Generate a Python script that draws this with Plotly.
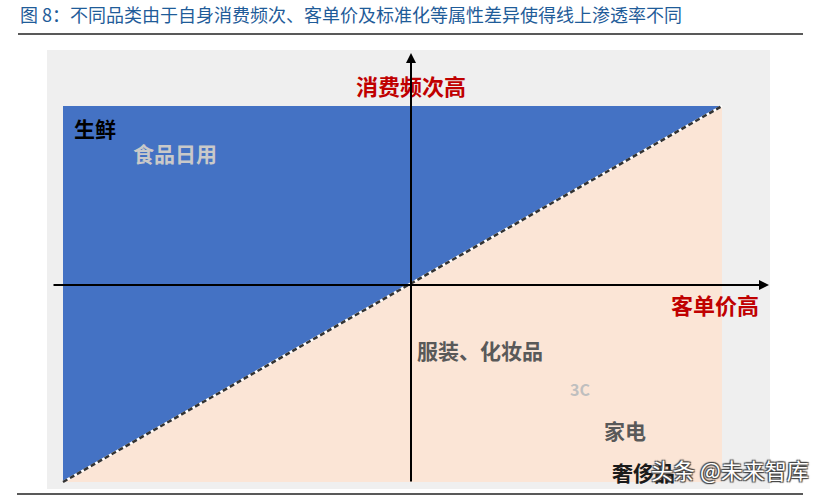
import plotly.graph_objects as go

# conceptual quadrant: x = 客单价, y = 消费频次 (origin where the axes cross)
categories = ['生鲜', '食品日用', '服装、化妆品', '3C', '家电', '奢侈品']
price_pos = [-3.16, -2.36, 0.69, 1.69, 2.14, 2.32]
freq_pos = [1.57, 1.32, -0.65, -1.04, -1.45, -1.87]
label_colors = ['#000000', '#C9C9C9', '#595959', '#BFBFBF', '#595959', '#1a1a1a']
label_sizes = [21, 21, 21, 16, 21, 21]

# region bounds of the online / offline split
region_x = [-3.48, 3.11]
region_y = [-1.97, 1.79]

axis_titles = ['客单价高', '消费频次高']
title_text = '图 8：不同品类由于自身消费频次、客单价及标准化等属性差异使得线上渗透率不同'

FONT = 'Noto Sans CJK SC'

fig = go.Figure()

# gray background panel
fig.add_shape(type='rect', xref='x', yref='y', x0=-3.64, x1=3.59, y0=-2.04, y1=2.35,
              fillcolor='#EFEFEF', line=dict(width=0), layer='below')

# offline (peach) triangle
fig.add_trace(go.Scatter(
    x=[region_x[0], region_x[1], region_x[1], region_x[0]],
    y=[region_y[0], region_y[1], region_y[0], region_y[0]],
    fill='toself', fillcolor='#FBE5D6', mode='none', hoverinfo='skip'))

# online (blue) triangle
fig.add_trace(go.Scatter(
    x=[region_x[0], region_x[1], region_x[0], region_x[0]],
    y=[region_y[1], region_y[1], region_y[0], region_y[1]],
    fill='toself', fillcolor='#4472C4', mode='none', hoverinfo='skip'))

# dashed diagonal (white under black dashes)
fig.add_trace(go.Scatter(x=region_x, y=region_y, mode='lines',
                         line=dict(color='white', width=2.5), hoverinfo='skip'))
fig.add_trace(go.Scatter(x=region_x, y=region_y, mode='lines',
                         line=dict(color='#333333', width=2.5, dash='5px,3px'), hoverinfo='skip'))

# axis titles
fig.add_annotation(x=0, y=2.0, text='<b>' + axis_titles[1] + '</b>', showarrow=False,
                   font=dict(family=FONT, size=22, color='#C00000'))
fig.add_annotation(x=3.04, y=-0.19, text='<b>' + axis_titles[0] + '</b>', showarrow=False,
                   font=dict(family=FONT, size=22, color='#C00000'))

# axes with arrows (drawn over the axis title)
fig.add_annotation(x=0, y=2.32, ax=0, ay=-1.98, xref='x', yref='y', axref='x', ayref='y',
                   showarrow=True, arrowhead=2, arrowsize=1, arrowwidth=2, arrowcolor='black', text='')
fig.add_annotation(x=3.58, y=0, ax=-3.59, ay=0, xref='x', yref='y', axref='x', ayref='y',
                   showarrow=True, arrowhead=2, arrowsize=1, arrowwidth=2, arrowcolor='black', text='')

# category labels
for name, px_, fy, c, s in zip(categories, price_pos, freq_pos, label_colors, label_sizes):
    fig.add_annotation(x=px_, y=fy, text='<b>' + name + '</b>', showarrow=False,
                       font=dict(family=FONT, size=s, color=c))

# watermark
fig.add_annotation(x=3.19, y=-1.84, text='头条 @未来智库', showarrow=False,
                   font=dict(family=FONT, size=22, color='white',
                             shadow='1px 1px 1px #444, -1px -1px 1px #444, 1px -1px 1px #444, -1px 1px 1px #444'))

# title and rules
fig.add_annotation(x=18 / 821, y=1 - 14 / 497, xref='paper', yref='paper',
                   xanchor='left', yanchor='middle',
                   text=title_text, showarrow=False,
                   font=dict(family=FONT, size=18, color='#1F5C99'))
fig.add_shape(type='line', xref='paper', yref='paper', x0=18 / 821, x1=803 / 821,
              y0=1 - 34 / 497, y1=1 - 34 / 497, line=dict(color='#222222', width=1.5))
fig.add_shape(type='line', xref='paper', yref='paper', x0=17 / 821, x1=803 / 821,
              y0=1 - 494 / 497, y1=1 - 494 / 497, line=dict(color='#222222', width=1.5))

fig.update_layout(
    width=821, height=497,
    margin=dict(l=0, r=0, t=0, b=0),
    paper_bgcolor='white', plot_bgcolor='white',
    showlegend=False,
    xaxis=dict(range=[-4.11, 4.10], visible=False, fixedrange=True),
    yaxis=dict(range=[-2.12, 2.85], visible=False, fixedrange=True),
)

fig.write_html('out.html', config={'displayModeBar': False},
               post_script="document.body.style.margin='0';")
